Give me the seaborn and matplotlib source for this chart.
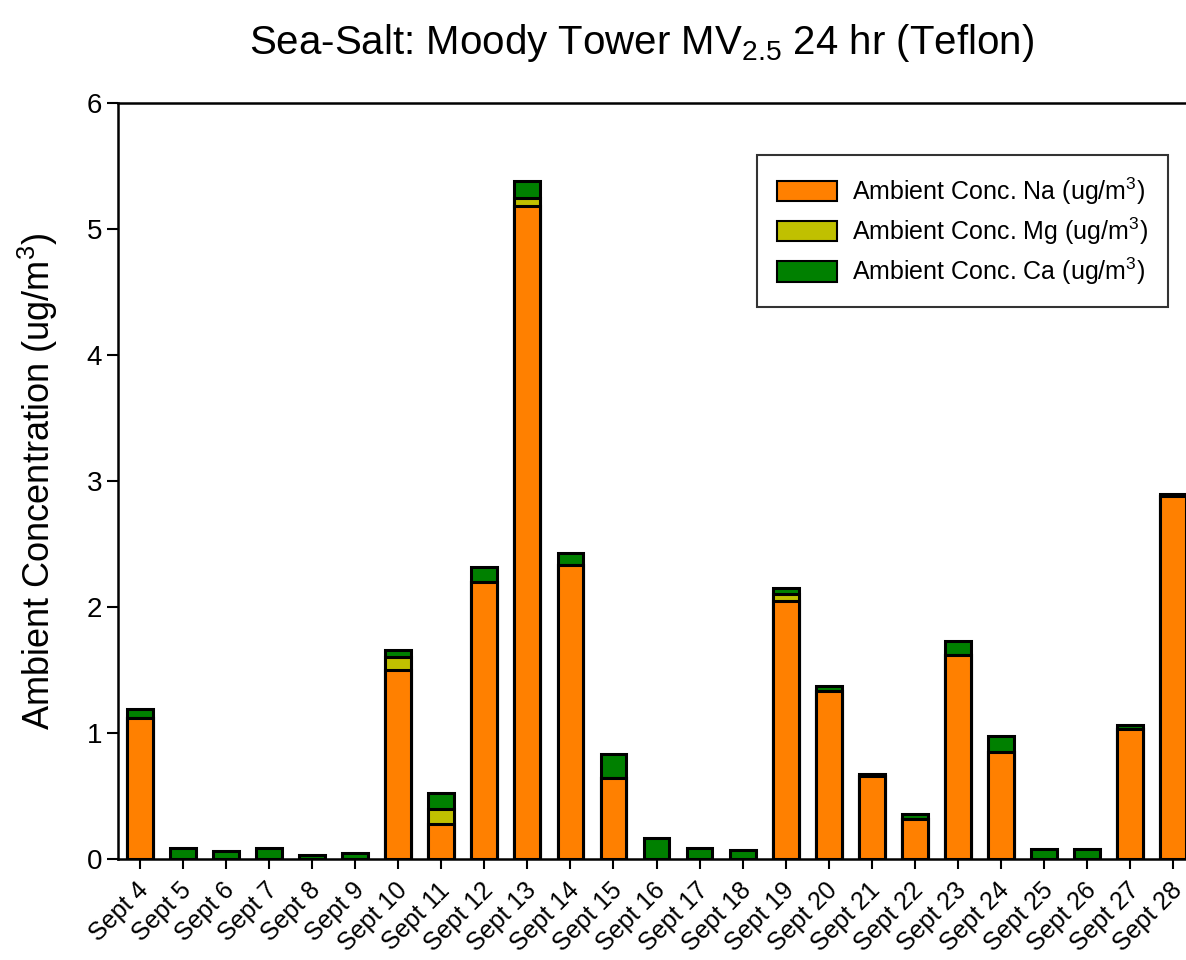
import numpy as np
import pandas as pd
import matplotlib
matplotlib.use("Agg")
import matplotlib.pyplot as plt
from matplotlib.patches import Patch
from matplotlib.transforms import ScaledTranslation
import seaborn as sns

# Values (ug/m3)
days = ["Sept %d" % d for d in range(4, 29)]
na = [1.12, 0.0, 0.0, 0.0, 0.0, 0.0, 1.50, 0.28, 2.20, 5.18, 2.33, 0.64, 0.0,
      0.0, 0.0, 2.05, 1.33, 0.66, 0.32, 1.62, 0.85, 0.0, 0.0, 1.03, 2.88]
mg = [0.0, 0.0, 0.0, 0.0, 0.0, 0.0, 0.10, 0.12, 0.0, 0.07, 0.0, 0.0, 0.0,
      0.0, 0.0, 0.05, 0.0, 0.0, 0.0, 0.0, 0.0, 0.0, 0.0, 0.0, 0.0]
ca = [0.07, 0.09, 0.065, 0.09, 0.035, 0.05, 0.06, 0.12, 0.12, 0.13, 0.10, 0.19, 0.17,
      0.09, 0.07, 0.05, 0.04, 0.015, 0.04, 0.11, 0.13, 0.08, 0.08, 0.03, 0.02]

colors = {"Na": "#FF8000", "Mg": "#C0C000", "Ca": "#008000"}

df = pd.DataFrame({"day": days, "Na": na, "Mg": mg, "Ca": ca})
df["NaMg"] = df["Na"] + df["Mg"]
df["total"] = df["NaMg"] + df["Ca"]

sns.set_style("ticks")
plt.rcParams["font.family"] = ["Liberation Sans", "DejaVu Sans"]
plt.rcParams["mathtext.fontset"] = "custom"
plt.rcParams["mathtext.rm"] = "Liberation Sans"
plt.rcParams["mathtext.it"] = "Liberation Sans"
for key in ["text.color", "axes.labelcolor", "xtick.color", "ytick.color", "axes.edgecolor"]:
    plt.rcParams[key] = "black"

fig = plt.figure(figsize=(11.86, 9.6), dpi=100)
ax = fig.add_axes([0.0995, 0.1052, 0.9005, 0.7875])

# layered bars: cumulative totals, drawn back to front
bar_kw = dict(width=0.6, edgecolor="black", linewidth=2.2, ax=ax, saturation=1)
for col, c in [("total", colors["Ca"]), ("NaMg", colors["Mg"]), ("Na", colors["Na"])]:
    sub = df[df[col] > 0]
    sns.barplot(x=pd.Categorical(sub["day"], categories=days, ordered=True),
                y=sub[col], color=c, native_scale=False, **bar_kw)

ax.set_xlim(-0.51, 24.3)
ax.set_ylim(0, 6)
ax.set_yticks(range(0, 7))
ax.set_xticks(range(len(days)))
ax.set_xticklabels(days, rotation=45, ha="right", va="center",
                   rotation_mode="anchor", fontsize=18)
ax.tick_params(axis="y", labelsize=20, direction="out", length=8, width=1.5)
ax.tick_params(axis="x", direction="out", length=7, width=1.5, pad=13)
# nudge the rotated labels a little to the right
shift = ScaledTranslation(5 / 100, 0, fig.dpi_scale_trans)
for lbl in ax.get_xticklabels():
    lbl.set_transform(lbl.get_transform() + shift)
ax.set_xlabel("")
ax.set_ylabel("Ambient Concentration (ug/m$^3$)", fontsize=26, labelpad=19)
for s in ["left", "bottom", "top"]:
    ax.spines[s].set_linewidth(1.8)
ax.spines["right"].set_visible(False)

fig.text(642 / 1186, 0.944, "Sea-Salt: Moody Tower MV$_{2.5}$ 24 hr (Teflon)",
         fontsize=29, ha="center", va="baseline")

handles = [Patch(facecolor=colors[k], edgecolor="black", linewidth=1.5) for k in ["Na", "Mg", "Ca"]]
labels = ["Ambient Conc. %s (ug/m$^3$)" % k for k in ["Na", "Mg", "Ca"]]
leg = ax.legend(handles, labels, loc="upper left", bbox_to_anchor=(0.598, 0.931),
                fontsize=18, frameon=True, fancybox=False, edgecolor="black",
                handlelength=2.4, handleheight=0.9, handletextpad=0.6,
                borderpad=0.8, borderaxespad=0, labelspacing=0.35)
leg.get_frame().set_linewidth(1.5)

fig.savefig("out.png", dpi=100)
